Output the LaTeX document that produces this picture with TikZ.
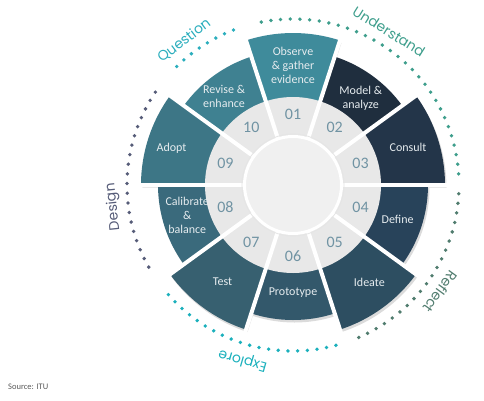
\documentclass[tikz,border=0pt]{standalone}
\usepackage{fontspec}
\setmainfont{Carlito}
\newfontfamily\arcfont{Poppins}
\usetikzlibrary{positioning}
\definecolor{stepone}{HTML}{3F8B9B}
\definecolor{steptwo}{HTML}{1F2E3E}
\definecolor{stepthree}{HTML}{233549}
\definecolor{stepfour}{HTML}{28435A}
\definecolor{stepfive}{HTML}{2D4E61}
\definecolor{stepsix}{HTML}{33586B}
\definecolor{stepseven}{HTML}{376070}
\definecolor{stepeight}{HTML}{3A6A7C}
\definecolor{stepnine}{HTML}{3D7686}
\definecolor{stepten}{HTML}{3F8191}
\definecolor{ringgrey}{HTML}{E8E8E8}
\definecolor{hubgrey}{HTML}{F0F0F0}
\definecolor{numink}{HTML}{7093A3}
\definecolor{segink}{HTML}{E6ECEF}
\definecolor{understandink}{HTML}{3E9E8C}
\definecolor{reflectink}{HTML}{507C6E}
\definecolor{exploreink}{HTML}{1BB0BC}
\definecolor{designink}{HTML}{565C78}
\definecolor{questionink}{HTML}{2BAEBD}
\definecolor{sourceink}{HTML}{595959}
\tikzset{
  % ---- wheel ----------------------------------------------------------
  mseg/.style={text=segink, align=center, inner sep=0pt,
    font=\fontsize{12}{14}\selectfont},
  mnum/.style={text=numink, inner sep=0pt,
    font=\fontsize{16}{16}\selectfont},
  msep/.style={draw=white, line width=4pt},
  mshadow/.style={fill=black!14},
  % ---- phases round the wheel -----------------------------------------
  marc/.style={inner sep=0pt, font=\arcfont\fontsize{14}{14}\selectfont},
  mdot/.style={radius=1.9},
}

\begin{document}
\begin{tikzpicture}[x=1pt, y=1pt]
\useasboundingbox (-293,-215) rectangle (191,185);

% ---- shadows and segments -------------------------------------------
\begin{scope}[shift={(1.5,-2.5)}]
\foreach \i/\r in {1/152,2/135,3/152,4/135,5/152,6/135,7/152,8/135,9/152,10/135} {
  \pgfmathsetmacro\lo{108-36*\i}
  \pgfmathsetmacro\hi{144-36*\i}
  \fill[mshadow] (0,0) -- (\lo:\r) arc[start angle=\lo, end angle=\hi, radius=\r] -- cycle;
}
\end{scope}
\foreach \i/\r/\c in {1/152/stepone,2/135/steptwo,3/152/stepthree,4/135/stepfour,
    5/152/stepfive,6/135/stepsix,7/152/stepseven,8/135/stepeight,
    9/152/stepnine,10/135/stepten} {
  \pgfmathsetmacro\lo{108-36*\i}
  \pgfmathsetmacro\hi{144-36*\i}
  \fill[\c] (0,0) -- (\lo:\r) arc[start angle=\lo, end angle=\hi, radius=\r] -- cycle;
}

% ---- number ring and hub --------------------------------------------
\fill[ringgrey] (0,0) circle (88);
\foreach \a in {0,36,...,324}
  \draw[msep] (\a:48) -- (\a:160);
\draw[black!10, line width=0.8pt] (0,0) circle (51);
\draw[white, line width=3pt, fill=hubgrey] (0,0) circle (48.5);

% ---- step numbers ---------------------------------------------------
\node[mnum] (n01) at (90:71)   {01};
\node[mnum] (n02) at (54:71)   {02};
\node[mnum] (n03) at (18:71)   {03};
\node[mnum] (n04) at (-18:71)  {04};
\node[mnum] (n05) at (-54:71)  {05};
\node[mnum] (n06) at (-90:71)  {06};
\node[mnum] (n07) at (-126:71) {07};
\node[mnum] (n08) at (-162:71) {08};
\node[mnum] (n09) at (162:71)  {09};
\node[mnum] (n10) at (126:71)  {10};

% ---- step labels ----------------------------------------------------
\node[mseg] (observe)   at (90:120)   {Observe\\\& gather\\evidence};
\node[mseg] (model)     at (52:110)   {Model \&\\analyze};
\node[mseg] (consult)   at (18:121)   {Consult};
\node[mseg] (define)    at (-18:110)  {Define};
\node[mseg] (ideate)    at (-52:124)  {Ideate};
\node[mseg] (prototype) at (-90:108)  {Prototype};
\node[mseg] (test)      at (-126:120) {Test};
\node[mseg] (calibrate) at (-164:110) {Calibrate\\\&\\balance};
\node[mseg] (adopt)     at (163:127)  {Adopt};
\node[mseg] (revise)    at (128:112)  {Revise \&\\enhance};

% ---- dotted phase arcs ----------------------------------------------
\foreach \a in {101,97.65,...,3}      \fill[understandink] (\a:166) circle[mdot];
\foreach \a in {-3,-6.35,...,-69}     \fill[reflectink] (\a:166) circle[mdot];
\foreach \a in {-75,-78.35,...,-142}  \fill[exploreink] (\a:166) circle[mdot];
\foreach \a in {146,149.35,...,212}   \fill[designink] (\a:166) circle[mdot];
\foreach \a in {111,114.35,...,137}   \fill[questionink] (\a:166) circle[mdot];

% ---- phase names ----------------------------------------------------
\node[marc, text=understandink, rotate=-32] (understand) at (58:181)   {Understand};
\node[marc, text=reflectink, rotate=-126]   (reflect)    at (-36:182)  {Reflect};
\node[marc, text=exploreink, rotate=164]    (explore)    at (-106:182) {Explore};
\node[marc, text=designink, rotate=96]      (design)     at (187:181)  {Design};
\node[marc, text=questionink, rotate=37]    (question)   at (127:181)  {Question};

% ---- source ---------------------------------------------------------
\node[anchor=west, inner sep=0pt, text=sourceink, font=\fontsize{8.5}{9}\selectfont]
  (source) at (-285,-202) {Source: ITU};

\end{tikzpicture}
\end{document}
